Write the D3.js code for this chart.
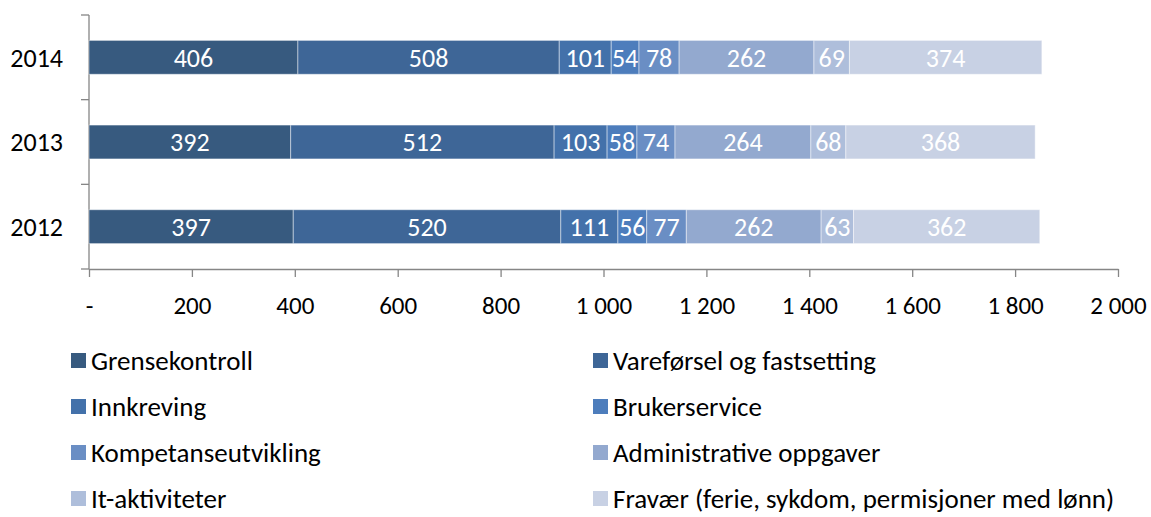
<!DOCTYPE html>
<html>
<head>
<meta charset="utf-8">
<script src="https://cdn.jsdelivr.net/npm/d3@7"></script>
<style>
  body { margin: 0; background: #fff; }
  svg text { font-family: Carlito, Lato, "Open Sans", sans-serif; }
</style>
</head>
<body>
<script>
// stacked bars, years from top to bottom
const years = ["2014", "2013", "2012"];
const seriesNames = [
  "Grensekontroll",
  "Vareførsel og fastsetting",
  "Innkreving",
  "Brukerservice",
  "Kompetanseutvikling",
  "Administrative oppgaver",
  "It-aktiviteter",
  "Fravær (ferie, sykdom, permisjoner med lønn)"
];
const colors = ["#375a7f", "#3e6697", "#4371aa", "#4d7dbc", "#6a8ec4", "#93a9cf", "#aebedb", "#c8d1e4"];
const grensekontroll = [406, 392, 397];
const varefoersel = [508, 512, 520];
const innkreving = [101, 103, 111];
const brukerservice = [54, 58, 56];
const kompetanse = [78, 74, 77];
const administrative = [262, 264, 262];
const itAktiviteter = [69, 68, 63];
const fravaer = [374, 368, 362];
const xTicks = [0, 200, 400, 600, 800, 1000, 1200, 1400, 1600, 1800, 2000];

const seriesValues = [grensekontroll, varefoersel, innkreving, brukerservice, kompetanse, administrative, itAktiviteter, fravaer];

const width = 1151, height = 517;
const svg = d3.select("body").append("svg").attr("width", width).attr("height", height);

const x = d3.scaleLinear().domain([0, 2000]).range([89, 1118]);
const y = d3.scaleBand().domain(years).range([15, 269]).paddingInner(0.6).paddingOuter(0.3);

const rows = years.map((yr, i) => {
  const r = { year: yr };
  seriesNames.forEach((s, j) => r[s] = seriesValues[j][i]);
  return r;
});
const stack = d3.stack().keys(seriesNames)(rows);

const fmt = (v) => v === 0 ? "-" : d3.format(",")(v).replace(/,/g, " ");

// axes
const xAxis = d3.axisBottom(x).tickValues(xTicks).tickSize(8).tickSizeOuter(0).tickFormat(fmt);
const gx = svg.append("g").attr("transform", "translate(0,269)").call(xAxis);
gx.select(".domain").attr("stroke", "#868686").attr("stroke-width", 1.3);
gx.selectAll(".tick line").attr("stroke", "#868686").attr("stroke-width", 1.3);
gx.selectAll(".tick text").attr("fill", "#000").attr("font-size", 25).attr("y", 36).attr("dy", "0.36em");

const gy = svg.append("g").attr("transform", "translate(89,0)");
gy.append("line").attr("x1", 0).attr("x2", 0).attr("y1", 15).attr("y2", 269).attr("stroke", "#868686").attr("stroke-width", 1.3);
const step = y.step();
[15, 15 + step, 15 + 2 * step, 269].forEach(v => {
  gy.append("line").attr("x1", -8).attr("x2", 0).attr("y1", v).attr("y2", v).attr("stroke", "#868686").attr("stroke-width", 1.3);
});
gy.selectAll("text.year").data(years).enter().append("text")
  .attr("x", -26).attr("y", d => y(d) + y.bandwidth() / 2).attr("dy", "0.36em")
  .attr("text-anchor", "end").attr("font-size", 26).attr("fill", "#000").text(d => d);

// bars
const layers = svg.selectAll("g.layer").data(stack).enter().append("g")
  .attr("fill", (d, i) => colors[i]);
layers.selectAll("rect").data(d => d).enter().append("rect")
  .attr("x", d => x(d[0])).attr("width", d => x(d[1]) - x(d[0]))
  .attr("y", d => y(d.data.year)).attr("height", y.bandwidth())
  .attr("stroke", "#fff").attr("stroke-opacity", 0.45).attr("stroke-width", 1);
layers.selectAll("text").data(d => d.map(v => ({ v, val: v[1] - v[0] }))).enter().append("text")
  .attr("x", d => (x(d.v[0]) + x(d.v[1])) / 2)
  .attr("y", d => y(d.v.data.year) + y.bandwidth() / 2).attr("dy", "0.36em")
  .attr("text-anchor", "middle").attr("fill", "#fff").attr("font-size", 26)
  .text(d => d.val);

// legend, two columns
const legend = svg.append("g");
seriesNames.forEach((s, i) => {
  const col = i % 2, row = Math.floor(i / 2);
  const lx = col === 0 ? 71 : 593, ly = 360 + row * 46;
  legend.append("rect").attr("x", lx).attr("y", ly - 7).attr("width", 15).attr("height", 15).attr("fill", colors[i]);
  legend.append("text").attr("x", lx + 20).attr("y", ly).attr("dy", "0.36em")
    .attr("font-size", 27).attr("fill", "#000").text(s);
});
</script>
</body>
</html>
